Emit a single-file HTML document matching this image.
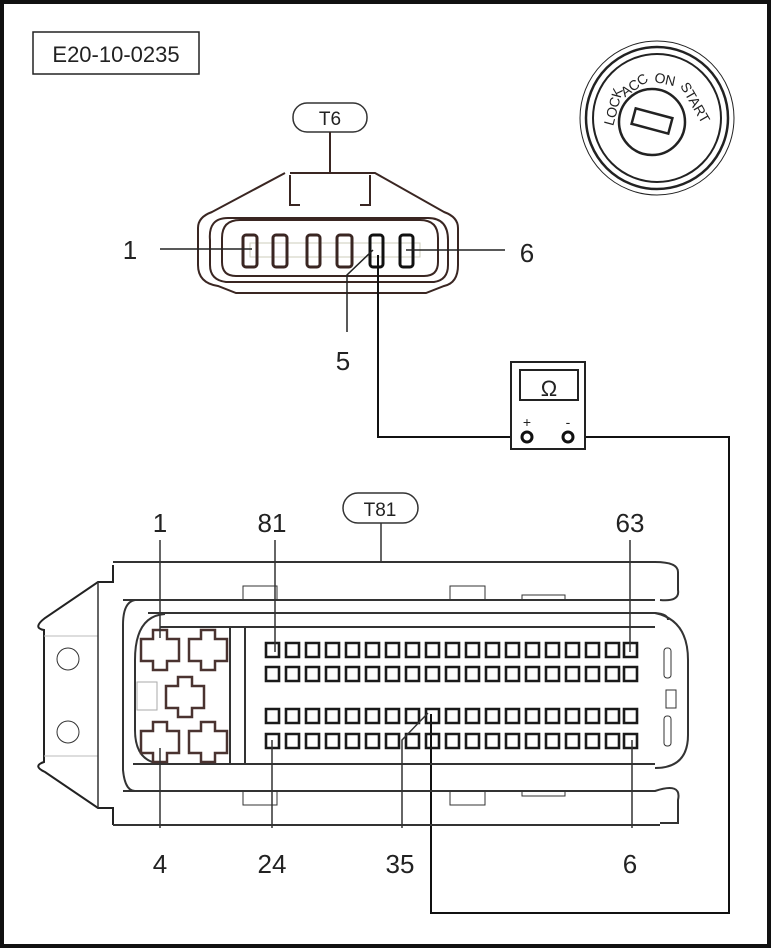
<!DOCTYPE html>
<html><head><meta charset="utf-8"><style>
html,body{margin:0;padding:0;background:#fff}
svg{display:block}
text{font-family:"Liberation Sans",sans-serif;fill:#222}
</style></head><body>
<svg width="772" height="949" viewBox="0 0 772 949" xmlns="http://www.w3.org/2000/svg">
<rect x="0" y="0" width="772" height="949" fill="#fff"/>
<rect x="2" y="2" width="767" height="944" fill="none" stroke="#111" stroke-width="4"/>

<rect x="33" y="32" width="166" height="42" fill="#fff" stroke="#222" stroke-width="1.5"/>
<text x="116" y="62" font-size="22" text-anchor="middle" fill="#111">E20-10-0235</text>

<g fill="none" stroke="#222">
<circle cx="657" cy="118" r="77" stroke-width="1"/>
<circle cx="657" cy="118" r="71" stroke-width="2.5"/>
<circle cx="657" cy="118" r="64" stroke-width="2"/>
<circle cx="652" cy="122" r="33" stroke-width="2.5"/>
<rect x="633" y="113" width="38" height="16" stroke-width="2.5" transform="rotate(15 652 121)"/>
</g>
<text font-size="14" text-anchor="middle" fill="#111" transform="translate(618,108) rotate(-75)">LOCK</text>
<text font-size="14" text-anchor="middle" fill="#111" transform="translate(637,89) rotate(-35)">ACC</text>
<text font-size="14" text-anchor="middle" fill="#111" transform="translate(664,84) rotate(12)">ON</text>
<text font-size="14" text-anchor="middle" fill="#111" transform="translate(691,105) rotate(60)">START</text>

<rect x="293" y="103" width="74" height="29" rx="14" fill="#fff" stroke="#333" stroke-width="1.5"/>
<text x="330" y="125" font-size="19" text-anchor="middle" fill="#555">T6</text>
<g fill="none" stroke="#3a2622" stroke-width="2">
<line x1="330" y1="132" x2="330" y2="173"/>
<path d="M290,173 L370,173 L375,173 L444,212 Q458,217 458,228 L458,265 Q458,283 444,286 L426,293 L236,293 L218,286 Q198,283 198,265 L198,228 Q198,217 212,212 L285,173"/>
<path d="M290,175 L290,205 L300,205 M370,175 L370,205 L360,205"/>
<path d="M228,218 Q208,218 210,240 L210,265 Q210,280 226,282 L434,282 Q448,280 448,265 L448,240 Q448,218 428,218 Z"/>
<path d="M240,220 L420,220 Q438,220 438,238 L438,262 Q438,276 424,276 L236,276 Q222,276 222,262 L222,238 Q222,220 240,220 Z"/>
</g>
<g stroke="#ccb" stroke-width="1" fill="none"><rect x="250" y="243" width="170" height="14"/></g>
<g fill="none" stroke="#3a2622" stroke-width="3">
<rect x="243" y="235" width="14" height="32" rx="3"/>
<rect x="273" y="235" width="14" height="32" rx="3"/>
<rect x="307" y="235" width="13" height="32" rx="3"/>
<rect x="337" y="235" width="15" height="32" rx="3"/>
<rect x="370" y="235" width="13" height="32" rx="3" stroke="#111"/>
<rect x="400" y="235" width="13" height="32" rx="3" stroke="#111"/>
</g>
<g stroke="#222" stroke-width="1.5" fill="none">
<line x1="160" y1="249" x2="252" y2="249"/>
<line x1="406" y1="250" x2="505" y2="250"/>
<path d="M373,250 L347,275 L347,332"/>
</g>
<text x="130" y="259" font-size="26" text-anchor="middle" fill="#444">1</text>
<text x="527" y="262" font-size="26" text-anchor="middle" fill="#111">6</text>
<text x="343" y="370" font-size="26" text-anchor="middle" fill="#444">5</text>

<g stroke="#111" stroke-width="2" fill="none">
<path d="M378,255 L378,437 L521,437"/>
<path d="M574,437 L729,437 L729,913 L431,913 L431,714"/>
</g>

<rect x="511" y="362" width="74" height="87" fill="#fff" stroke="#222" stroke-width="2"/>
<rect x="520" y="370" width="58" height="30" fill="#fff" stroke="#222" stroke-width="2"/>
<text x="549" y="396" font-size="22" text-anchor="middle">Ω</text>
<text x="527" y="427" font-size="14" text-anchor="middle">+</text>
<text x="568" y="427" font-size="14" text-anchor="middle">-</text>
<circle cx="527" cy="437" r="5" fill="#fff" stroke="#111" stroke-width="3"/>
<circle cx="568" cy="437" r="5" fill="#fff" stroke="#111" stroke-width="3"/>

<rect x="343" y="493" width="75" height="30" rx="15" fill="#fff" stroke="#333" stroke-width="1.5"/>
<text x="380" y="516" font-size="19" text-anchor="middle" fill="#444">T81</text>
<line x1="381" y1="523" x2="381" y2="562" stroke="#333" stroke-width="1.5"/>
<text x="160" y="532" font-size="26" text-anchor="middle" fill="#444">1</text>
<text x="272" y="532" font-size="26" text-anchor="middle" fill="#444">81</text>
<text x="630" y="532" font-size="26" text-anchor="middle" fill="#111">63</text>
<text x="160" y="873" font-size="26" text-anchor="middle" fill="#111">4</text>
<text x="272" y="873" font-size="26" text-anchor="middle" fill="#111">24</text>
<text x="400" y="873" font-size="26" text-anchor="middle" fill="#111">35</text>
<text x="630" y="873" font-size="26" text-anchor="middle" fill="#111">6</text>

<g fill="none" stroke="#333" stroke-width="2">
<path d="M113,565 L113,582 L98,582 L45,618 Q32,628 44,630 L44,762 Q32,766 45,772 L98,808 L113,808 L113,825" stroke="#222"/>
<path d="M44,636 L98,636 M44,756 L98,756" stroke="#bbb" stroke-width="1"/>
<path d="M98,582 L98,808" stroke-width="1.5"/>
<circle cx="68" cy="659" r="11" stroke-width="1"/>
<circle cx="68" cy="732" r="11" stroke-width="1"/>
<path d="M113,562 L655,562 Q678,562 678,572 L678,590 Q680,602 660,600"/>
<path d="M123,600 L655,600"/>
<path d="M148,613 L655,613 Q668,614 668,620"/>
<path d="M160,627 L655,627"/>
<path d="M133,764 L655,764"/>
<path d="M123,791 L655,791 Q682,782 678,800 L678,823 L660,823"/>
<path d="M113,825 L660,825"/>
<path d="M135,600 Q123,602 123,625 L123,770 Q125,791 135,791"/>
<path d="M165,614 Q135,616 135,660 L135,730 Q135,764 165,764"/>
<path d="M655,613 Q688,620 688,660 L688,735 Q688,768 655,768"/>
<rect x="664" y="648" width="7" height="30" rx="3" stroke-width="1"/>
<rect x="664" y="716" width="7" height="30" rx="3" stroke-width="1"/>
<rect x="666" y="690" width="10" height="18" stroke-width="1"/>
<path d="M230,627 L230,764 M245,627 L245,764"/>
<path d="M243,600 L243,586 L277,586 L277,600 M450,600 L450,586 L485,586 L485,600 M522,600 L522,595 L565,595 L565,600" stroke-width="1"/>
<path d="M243,791 L243,805 L277,805 L277,791 M450,791 L450,805 L485,805 L485,791 M522,791 L522,796 L565,796 L565,791" stroke-width="1"/>
<rect x="137" y="682" width="20" height="28" stroke-width="1" stroke="#aaa"/>
</g>

<g fill="#fff" stroke="#4a3330" stroke-width="2.5">
<path d="M-7,-20 L7,-20 L7,-11 L19,-11 L19,11 L7,11 L7,20 L-7,20 L-7,11 L-19,11 L-19,-11 L-7,-11 Z" transform="translate(160,650)"/>
<path d="M-7,-20 L7,-20 L7,-11 L19,-11 L19,11 L7,11 L7,20 L-7,20 L-7,11 L-19,11 L-19,-11 L-7,-11 Z" transform="translate(208,650)"/>
<path d="M-7,-20 L7,-20 L7,-11 L19,-11 L19,11 L7,11 L7,20 L-7,20 L-7,11 L-19,11 L-19,-11 L-7,-11 Z" transform="translate(185,697)"/>
<path d="M-7,-20 L7,-20 L7,-11 L19,-11 L19,11 L7,11 L7,20 L-7,20 L-7,11 L-19,11 L-19,-11 L-7,-11 Z" transform="translate(160,742)"/>
<path d="M-7,-20 L7,-20 L7,-11 L19,-11 L19,11 L7,11 L7,20 L-7,20 L-7,11 L-19,11 L-19,-11 L-7,-11 Z" transform="translate(208,742)"/>
</g>

<g fill="none" stroke="#1a1a1a" stroke-width="2.6">
<path d="M266,643h13v14h-13zM286,643h13v14h-13zM306,643h13v14h-13zM326,643h13v14h-13zM346,643h13v14h-13zM366,643h13v14h-13zM386,643h13v14h-13zM406,643h13v14h-13zM426,643h13v14h-13zM446,643h13v14h-13zM466,643h13v14h-13zM486,643h13v14h-13zM506,643h13v14h-13zM526,643h13v14h-13zM546,643h13v14h-13zM566,643h13v14h-13zM586,643h13v14h-13zM606,643h13v14h-13zM624,643h13v14h-13z"/>
<path d="M266,667h13v14h-13zM286,667h13v14h-13zM306,667h13v14h-13zM326,667h13v14h-13zM346,667h13v14h-13zM366,667h13v14h-13zM386,667h13v14h-13zM406,667h13v14h-13zM426,667h13v14h-13zM446,667h13v14h-13zM466,667h13v14h-13zM486,667h13v14h-13zM506,667h13v14h-13zM526,667h13v14h-13zM546,667h13v14h-13zM566,667h13v14h-13zM586,667h13v14h-13zM606,667h13v14h-13zM624,667h13v14h-13z"/>
<path d="M266,709h13v14h-13zM286,709h13v14h-13zM306,709h13v14h-13zM326,709h13v14h-13zM346,709h13v14h-13zM366,709h13v14h-13zM386,709h13v14h-13zM406,709h13v14h-13zM426,709h13v14h-13zM446,709h13v14h-13zM466,709h13v14h-13zM486,709h13v14h-13zM506,709h13v14h-13zM526,709h13v14h-13zM546,709h13v14h-13zM566,709h13v14h-13zM586,709h13v14h-13zM606,709h13v14h-13zM624,709h13v14h-13z"/>
<path d="M266,734h13v14h-13zM286,734h13v14h-13zM306,734h13v14h-13zM326,734h13v14h-13zM346,734h13v14h-13zM366,734h13v14h-13zM386,734h13v14h-13zM406,734h13v14h-13zM426,734h13v14h-13zM446,734h13v14h-13zM466,734h13v14h-13zM486,734h13v14h-13zM506,734h13v14h-13zM526,734h13v14h-13zM546,734h13v14h-13zM566,734h13v14h-13zM586,734h13v14h-13zM606,734h13v14h-13zM624,734h13v14h-13z"/>
</g>

<g stroke="#333" stroke-width="1.5" fill="none">
<line x1="160" y1="540" x2="160" y2="638"/>
<line x1="275" y1="540" x2="275" y2="652"/>
<line x1="630" y1="540" x2="630" y2="652"/>
<line x1="160" y1="748" x2="160" y2="828"/>
<line x1="272" y1="740" x2="272" y2="828"/>
<path d="M428,713 L402,740 L402,828"/>
<line x1="632" y1="740" x2="632" y2="828"/>
</g>
</svg>
</body></html>
